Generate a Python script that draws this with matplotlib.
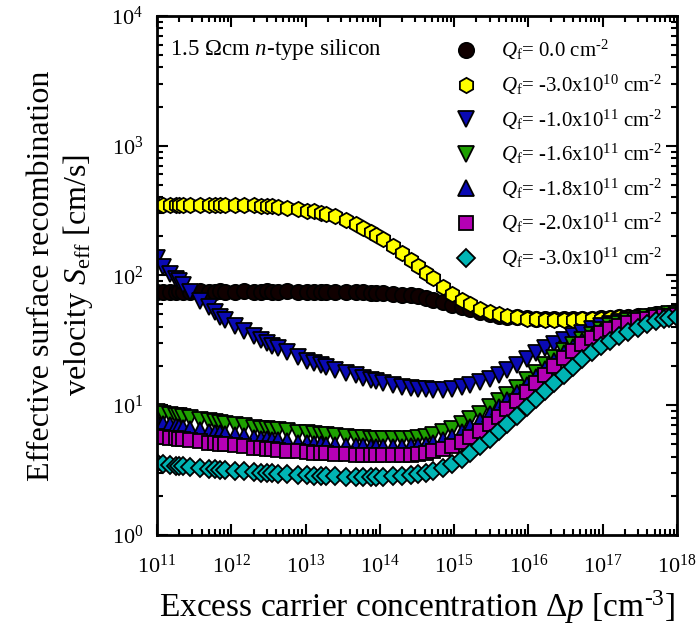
# S_eff vs excess carrier density for several fixed charge densities
import matplotlib
matplotlib.use("Agg")
from matplotlib import pyplot as plt

plt.rcParams['font.family'] = ['Liberation Serif', 'DejaVu Serif']
plt.rcParams['mathtext.fontset'] = 'custom'
plt.rcParams['mathtext.rm'] = 'Liberation Serif'
plt.rcParams['mathtext.it'] = 'Liberation Serif:italic'
plt.rcParams['mathtext.bf'] = 'Liberation Serif:bold'

# excess carrier concentration [cm^-3]
dp = [1.0e11, 1.2e11, 1.51e11, 1.78e11, 2.0e11, 2.24e11, 2.82e11, 3.8e11, 5.0e11, 6.0e11,
      7.1e11, 8.3e11, 1.12e12, 1.5e12, 2.0e12, 2.5e12, 3.0e12, 3.5e12, 4.2e12, 5.6e12,
      7.9e12, 1.05e13, 1.3e13, 1.6e13, 1.9e13, 2.5e13, 3.5e13, 4.8e13, 6.0e13, 7.6e13,
      8.9e13, 1.12e14, 1.5e14, 2.0e14, 2.6e14, 3.3e14, 4.2e14, 5.2e14, 7.1e14, 9.5e14,
      1.26e15, 1.66e15, 2.2e15, 3.0e15, 4.0e15, 5.2e15, 7.1e15, 9.5e15, 1.26e16, 1.66e16,
      2.2e16, 3.0e16, 4.0e16, 5.2e16, 7.1e16, 9.5e16, 1.26e17, 1.66e17, 2.2e17, 3.0e17,
      4.0e17, 5.2e17, 6.6e17, 7.9e17, 1.0e18]

# S_eff [cm/s] for each Qf
s_q0 = [75, 75, 75, 75, 76, 75, 75, 76, 75, 75, 76, 75, 75, 76, 75, 75, 76, 75, 75, 76,
        75, 75, 75, 75, 75, 74, 74, 74, 74, 73, 73, 73, 72, 71, 70, 69, 67, 65, 62, 59,
        57, 55, 52, 50.5, 49, 48, 47.5, 47, 46.5, 46, 46, 46, 46, 46, 46.5, 47, 47, 47.5,
        48, 48.5, 49, 50, 50, 51, 51]
s_q30e10 = [350, 348, 350, 349, 351, 348, 350, 349, 350, 348, 349, 350, 348, 347, 346, 344,
            342, 340, 337, 330, 322, 314, 312, 305, 298, 285, 265, 247, 232, 215, 205, 190,
            168, 150, 132, 118, 105, 95, 82, 72, 65, 60, 55, 52, 50, 48.5, 47.5, 46.5, 46,
            45.5, 45.5, 45.5, 45.5, 46, 46, 46.5, 47, 47.5, 48, 48.5, 49, 49.5, 50, 50.5, 51]
s_q10e11 = [135, 115, 102, 93, 90, 85, 74, 64, 57, 52, 48, 45, 41, 37, 34, 31.5, 30, 28.5,
            27.5, 25.5, 23.5, 22, 21, 20.3, 19.7, 18.8, 17.8, 17, 16.3, 15.7, 15.3, 14.8,
            14.3, 13.9, 13.6, 13.4, 13.2, 13.1, 13.1, 13.3, 13.7, 14.3, 15.0, 15.9, 17.0,
            18.5, 20.5, 22.7, 25, 27.5, 29.8, 32, 34.2, 36.2, 38.5, 40.5, 42, 43.5, 45, 46,
            47, 48, 49, 49.5, 50]
s_q16e11 = [8.8, 8.6, 8.4, 8.3, 8.2, 8.1, 7.9, 7.7, 7.5, 7.4, 7.3, 7.2, 7.0, 6.85, 6.7, 6.6,
            6.5, 6.45, 6.4, 6.3, 6.15, 6.05, 5.95, 5.9, 5.85, 5.75, 5.65, 5.6, 5.55, 5.5, 5.5,
            5.45, 5.45, 5.45, 5.5, 5.55, 5.7, 5.9, 6.2, 6.6, 7.1, 7.8, 8.6, 9.6, 10.7, 12.0,
            13.6, 15.6, 17.8, 20.3, 23, 26, 29, 32, 35, 38, 40.5, 42.5, 44.5, 46, 47.5, 48.5,
            49.5, 50, 50.5]
s_q18e11 = [7.4, 7.2, 7.0, 6.9, 6.8, 6.7, 6.55, 6.4, 6.25, 6.15, 6.05, 6.0, 5.85, 5.75, 5.6,
            5.5, 5.45, 5.4, 5.35, 5.25, 5.15, 5.1, 5.05, 5.0, 4.95, 4.9, 4.85, 4.8, 4.8, 4.75,
            4.75, 4.75, 4.75, 4.75, 4.8, 4.85, 4.95, 5.1, 5.35, 5.7, 6.2, 6.8, 7.6, 8.5, 9.6,
            10.9, 12.5, 14.4, 16.6, 19.1, 21.9, 25, 28, 31, 34, 37, 39.5, 41.8, 43.8, 45.5,
            47, 48, 49, 49.5, 50]
s_q20e11 = [5.8, 5.7, 5.6, 5.55, 5.5, 5.45, 5.35, 5.25, 5.15, 5.1, 5.05, 5.0, 4.9, 4.8, 4.7,
            4.65, 4.6, 4.55, 4.5, 4.45, 4.4, 4.35, 4.3, 4.3, 4.25, 4.2, 4.2, 4.15, 4.15, 4.1,
            4.1, 4.1, 4.1, 4.1, 4.15, 4.2, 4.3, 4.4, 4.6, 4.85, 5.2, 5.7, 6.3, 7.1, 8.1, 9.3,
            10.8, 12.6, 14.7, 17.2, 20, 23, 26.3, 29.5, 32.7, 35.8, 38.5, 41, 43.2, 45, 46.5,
            47.5, 48.5, 49, 49.5]
s_q30e11 = [3.55, 3.5, 3.45, 3.42, 3.4, 3.38, 3.33, 3.28, 3.24, 3.2, 3.18, 3.16, 3.12, 3.08,
            3.05, 3.02, 3.0, 2.98, 2.96, 2.93, 2.9, 2.88, 2.86, 2.85, 2.84, 2.82, 2.81, 2.8,
            2.8, 2.8, 2.8, 2.81, 2.82, 2.84, 2.87, 2.92, 2.98, 3.08, 3.25, 3.5, 3.85, 4.3,
            4.85, 5.5, 6.3, 7.2, 8.3, 9.6, 11.1, 12.8, 14.8, 17.2, 19.8, 22.6, 25.6, 28.6,
            31.4, 34.2, 36.8, 39.2, 42.5, 44.5, 46, 47, 48]

labels = [r'$Q_\mathrm{f}$= 0.0 cm$^{\text{-2}}$',
          r'$Q_\mathrm{f}$= -3.0x10$^{10}$ cm$^{\text{-2}}$',
          r'$Q_\mathrm{f}$= -1.0x10$^{11}$ cm$^{\text{-2}}$',
          r'$Q_\mathrm{f}$= -1.6x10$^{11}$ cm$^{\text{-2}}$',
          r'$Q_\mathrm{f}$= -1.8x10$^{11}$ cm$^{\text{-2}}$',
          r'$Q_\mathrm{f}$= -2.0x10$^{11}$ cm$^{\text{-2}}$',
          r'$Q_\mathrm{f}$= -3.0x10$^{11}$ cm$^{\text{-2}}$']
series = [s_q0, s_q30e10, s_q10e11, s_q16e11, s_q18e11, s_q20e11, s_q30e11]
markers = ['o', 'h', 'v', 'v', '^', 's', 'D']
colors = ['#100000', '#ffff00', '#0a0ab4', '#1ea000', '#0a0ab4', '#b400b4', '#00b4b4']
sizes = [11, 11, 11, 11, 11, 9.5, 9]

fig = plt.figure(figsize=(6.96, 6.33), dpi=100)
ax = fig.add_axes([0.2256, 0.155, 0.747, 0.82])

for y, m, c, ms, lab in zip(series, markers, colors, sizes, labels):
    ax.plot(dp, y, linestyle='none', marker=m, markersize=ms, markerfacecolor=c,
            markeredgecolor='black', markeredgewidth=1.3, label=lab)

ax.set_xscale('log')
ax.set_yscale('log')
ax.set_xlim(1e11, 1e18)
ax.set_ylim(1e0, 1e4)

for sp in ax.spines.values():
    sp.set_linewidth(2)
ax.tick_params(which='both', direction='in', top=True, right=True, width=1.5)
ax.tick_params(which='major', length=8, labelsize=16)
ax.tick_params(axis='x', which='major', pad=14)
ax.tick_params(axis='y', which='major', pad=10)
ax.tick_params(which='minor', length=4.5)

ax.set_xlabel(r'Excess carrier concentration $\Delta p$ [cm$^{\text{-3}}$]', fontsize=24, labelpad=8)
ax.set_ylabel('Effective surface recombination\n' + r'velocity $S_\mathrm{eff}$ [cm/s]',
              fontsize=23, labelpad=12, linespacing=1.2)

ax.text(0.025, 0.935, r'1.5 $\Omega$cm $n$-type silicon', transform=ax.transAxes,
        fontsize=16.5, va='center', ha='left')

ax.legend(loc='upper right', frameon=False, fontsize=15, labelspacing=0.5,
          handletextpad=0.7, borderaxespad=0.3, bbox_to_anchor=(1.0, 0.985))

fig.savefig('out.png', dpi=100)
